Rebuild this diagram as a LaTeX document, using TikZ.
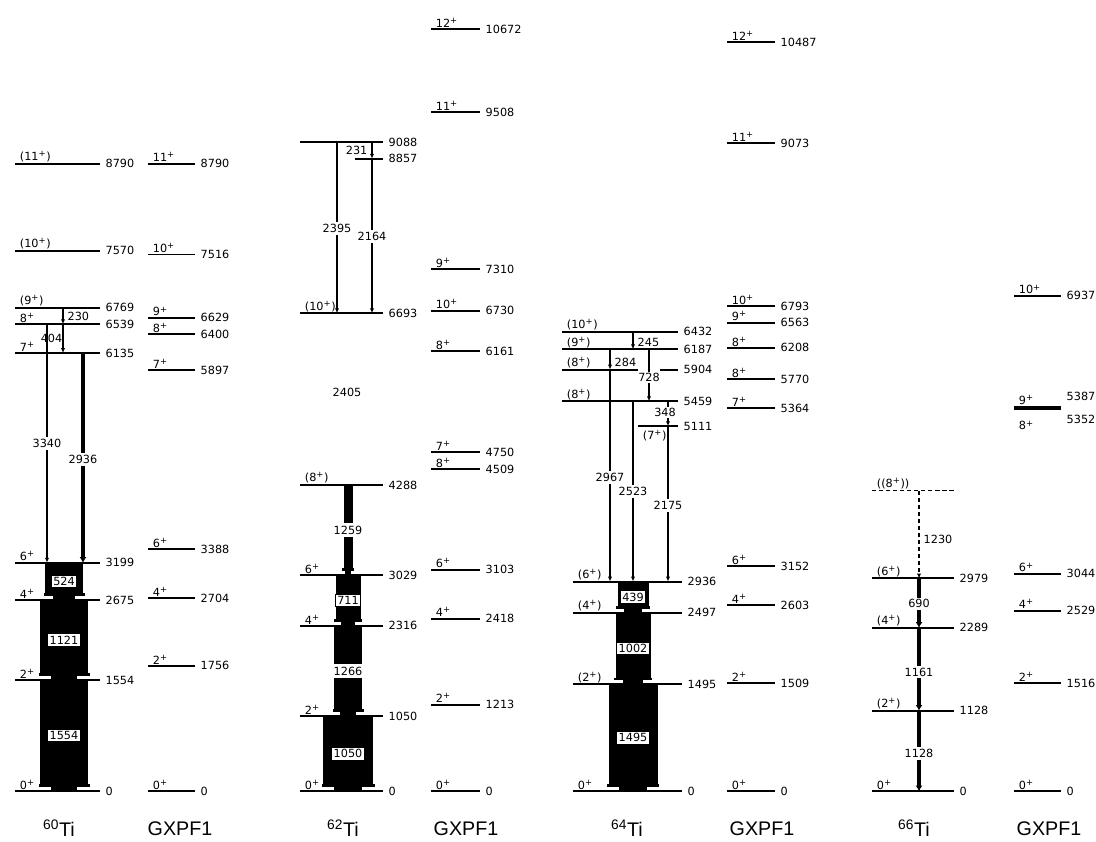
\documentclass[tikz,border=0pt]{standalone}
\usepackage{fontspec}
\setmainfont{Liberation Sans}
\newfontfamily\lblfont{DejaVu Sans}
\usetikzlibrary{arrows.meta}

% level line with spin and energy labels
\newcommand{\lvl}[6]{%
  \coordinate (#1) at (#2,#4);
  \draw[lvl] (#2,#4) -- (#3,#4);
  \node[slab] (#1-s) at (#2,#4) {#5};
  \node[elab] (#1-e) at (#3,#4) {#6};
}
% gamma line between two levels
\newcommand{\gam}[4][]{\draw[trans,#1] (#2,0 |- #3) -- (#2,0 |- #4);}
% intensity bar between two levels
\newcommand{\gbar}[7]{%
  \pgfmathsetmacro{\bxl}{#2-#3/2}\pgfmathsetmacro{\bxr}{#2+#3/2}%
  \pgfmathsetmacro{\fxl}{#2-#3/2-1.5}\pgfmathsetmacro{\fxr}{#2+#3/2+1.5}%
  \pgfmathsetmacro{\txl}{#2-0.28*#3}\pgfmathsetmacro{\txr}{#2+0.28*#3}%
  \fill (\bxl,0 |- #4) rectangle ([yshift=0.17cm]\bxr,0 |- #5);
  \fill ([yshift=0.17cm]\fxl,0 |- #5) rectangle ([yshift=0.1cm]\fxr,0 |- #5);
  \fill ([yshift=0.1cm]\txl,0 |- #5) rectangle (\txr,0 |- #5);
  \path (#2,0 |- #4) -- (#2,0 |- #5) node[midway,#6] (#1) {#7};
}

\begin{document}
\begin{tikzpicture}[x=0.025cm, y=0.0017825cm,
  every node/.style={font=\lblfont\fontsize{8}{9}\selectfont},
  lvl/.style={line width=1.4pt},
  slab/.style={anchor=south west, inner sep=1pt, xshift=0.08cm},
  elab/.style={anchor=west, inner sep=1pt, xshift=0.1cm},
  trans/.style={line width=0.8pt, -{Latex[length=3.5pt,width=3pt]}},
  wide/.style={line width=2.2pt, -{Latex[length=4pt,width=5pt]}},
  glab/.style={fill=white, inner sep=1.5pt},
  blab/.style={glab, draw, line width=0.8pt},
  nuc/.style={font=\fontsize{14}{16}\selectfont},
]
\useasboundingbox (0,-701) rectangle (1096,11080);

% 60Ti experiment
\lvl{t60-0}{15}{100}{0}{0\textsuperscript{+}}{0}
\lvl{t60-2}{15}{100}{1554}{2\textsuperscript{+}}{1554}
\lvl{t60-4}{15}{100}{2675}{4\textsuperscript{+}}{2675}
\lvl{t60-6}{15}{100}{3199}{6\textsuperscript{+}}{3199}
\lvl{t60-7}{15}{100}{6135}{7\textsuperscript{+}}{6135}
\lvl{t60-8}{15}{100}{6539}{8\textsuperscript{+}}{6539}
\lvl{t60-9}{15}{100}{6769}{(9\textsuperscript{+})}{6769}
\lvl{t60-10}{15}{100}{7570}{(10\textsuperscript{+})}{7570}
\lvl{t60-11}{15}{100}{8790}{(11\textsuperscript{+})}{8790}
\gbar{b524}{64}{38}{t60-6}{t60-4}{blab}{524}
\gbar{b1121}{64}{48}{t60-4}{t60-2}{blab}{1121}
\gbar{b1554}{64}{48}{t60-2}{t60-0}{blab}{1554}
\gam{63}{t60-9}{t60-8}
\gam{63}{t60-8}{t60-7}
\gam{47}{t60-8}{t60-6}
\gam[wide]{83}{t60-7}{t60-6}
\node[anchor=west, inner sep=1pt] (l230) at (66,6648) {230};
\node[anchor=east, inner sep=1pt] (l404) at (64,6339) {404};
\node[glab] (l3340) at (47,4867) {3340};
\node[glab] (l2936) at (83,4642) {2936};

% 60Ti GXPF1
\lvl{g60-0}{148}{195}{0}{0\textsuperscript{+}}{0}
\lvl{g60-2}{148}{195}{1756}{2\textsuperscript{+}}{1756}
\lvl{g60-4}{148}{195}{2704}{4\textsuperscript{+}}{2704}
\lvl{g60-6}{148}{195}{3388}{6\textsuperscript{+}}{3388}
\lvl{g60-7}{148}{195}{5897}{7\textsuperscript{+}}{5897}
\lvl{g60-8}{148}{195}{6400}{8\textsuperscript{+}}{6400}
\lvl{g60-9}{148}{195}{6629}{9\textsuperscript{+}}{6629}
\lvl{g60-10}{148}{195}{7516}{10\textsuperscript{+}}{7516}
\lvl{g60-11}{148}{195}{8790}{11\textsuperscript{+}}{8790}

% 62Ti experiment
\lvl{t62-0}{300}{383}{0}{0\textsuperscript{+}}{0}
\lvl{t62-2}{300}{383}{1050}{2\textsuperscript{+}}{1050}
\lvl{t62-4}{300}{383}{2316}{4\textsuperscript{+}}{2316}
\lvl{t62-6}{300}{383}{3029}{6\textsuperscript{+}}{3029}
\lvl{t62-8}{300}{383}{4288}{(8\textsuperscript{+})}{4288}
\lvl{t62-10}{300}{383}{6693}{(10\textsuperscript{+})}{6693}
\lvl{t62-b}{355}{383}{8857}{}{8857}
\lvl{t62-c}{300}{383}{9088}{}{9088}
\gbar{b1259}{348}{9}{t62-8}{t62-6}{glab, minimum height=0.37cm}{1259}
\gbar{b711}{348}{25}{t62-6}{t62-4}{blab}{711}
\gbar{b1266}{348}{28}{t62-4}{t62-2}{glab, minimum height=0.37cm, minimum width=0.75cm}{1266}
\gbar{b1050}{348}{50}{t62-2}{t62-0}{blab}{1050}
\gam{372}{t62-c}{t62-b}
\gam{337}{t62-c}{t62-10}
\gam{372}{t62-b}{t62-10}
\node[anchor=east, inner sep=1pt] (l231) at (369,8976) {231};
\node[glab] (l2395) at (337,7882) {2395};
\node[glab] (l2164) at (372,7770) {2164};
\node[inner sep=1pt] (l2405) at (347,5582) {2405};

% 62Ti GXPF1
\lvl{g62-0}{431}{480}{0}{0\textsuperscript{+}}{0}
\lvl{g62-2}{431}{480}{1213}{2\textsuperscript{+}}{1213}
\lvl{g62-4}{431}{480}{2418}{4\textsuperscript{+}}{2418}
\lvl{g62-6}{431}{480}{3103}{6\textsuperscript{+}}{3103}
\lvl{g62-8}{431}{480}{4509}{8\textsuperscript{+}}{4509}
\lvl{g62-7}{431}{480}{4750}{7\textsuperscript{+}}{4750}
\lvl{g62-8b}{431}{480}{6161}{8\textsuperscript{+}}{6161}
\lvl{g62-10}{431}{480}{6730}{10\textsuperscript{+}}{6730}
\lvl{g62-9}{431}{480}{7310}{9\textsuperscript{+}}{7310}
\lvl{g62-11}{431}{480}{9508}{11\textsuperscript{+}}{9508}
\lvl{g62-12}{431}{480}{10672}{12\textsuperscript{+}}{10672}

% 64Ti experiment
\lvl{t64-0}{573}{682}{0}{0\textsuperscript{+}}{0}
\lvl{t64-2}{573}{682}{1495}{(2\textsuperscript{+})}{1495}
\lvl{t64-4}{573}{682}{2497}{(4\textsuperscript{+})}{2497}
\lvl{t64-6}{573}{682}{2936}{(6\textsuperscript{+})}{2936}
\coordinate (t64-7) at (638,5111);
\draw[lvl] (638,5111) -- (678,5111);
\node[slab, anchor=north west, yshift=-0.05cm] (t64-7-s) at (638,5111) {(7\textsuperscript{+})};
\node[elab] (t64-7-e) at (678,5111) {5111};
\lvl{t64-8a}{562}{678}{5459}{(8\textsuperscript{+})}{5459}
\coordinate (t64-8b) at (562,5904);
\draw[lvl] (562,5904) -- (638,5904) (660,5904) -- (678,5904);
\node[slab] (t64-8b-s) at (562,5904) {(8\textsuperscript{+})};
\node[elab] (t64-8b-e) at (678,5904) {5904};
\lvl{t64-9}{562}{678}{6187}{(9\textsuperscript{+})}{6187}
\lvl{t64-10}{562}{678}{6432}{(10\textsuperscript{+})}{6432}
\gbar{b439}{633}{31}{t64-6}{t64-4}{blab}{439}
\gbar{b1002}{633}{35}{t64-4}{t64-2}{blab}{1002}
\gbar{b1495}{633}{49}{t64-2}{t64-0}{blab}{1495}
\gam{610}{t64-9}{t64-8b}
\gam{610}{t64-8b}{t64-6}
\gam{633}{t64-10}{t64-9}
\gam{633}{t64-8a}{t64-6}
\gam{649}{t64-9}{t64-8a}
\gam{668}{t64-8a}{t64-7}
\gam{668}{t64-7}{t64-6}
\node[anchor=west, inner sep=1pt] (l245) at (636,6283) {245};
\node[anchor=west, inner sep=1pt] (l284) at (613,6003) {284};
\node[glab, inner sep=1pt] (l728) at (649,5792) {728};
\node[glab, inner sep=1pt] (l348) at (665,5302) {348};
\node[glab] (l2967) at (610,4390) {2967};
\node[glab] (l2523) at (633,4194) {2523};
\node[glab] (l2175) at (668,3997) {2175};

% 64Ti GXPF1
\lvl{g64-0}{727}{775}{0}{0\textsuperscript{+}}{0}
\lvl{g64-2}{727}{775}{1509}{2\textsuperscript{+}}{1509}
\lvl{g64-4}{727}{775}{2603}{4\textsuperscript{+}}{2603}
\lvl{g64-6}{727}{775}{3152}{6\textsuperscript{+}}{3152}
\lvl{g64-7}{727}{775}{5364}{7\textsuperscript{+}}{5364}
\lvl{g64-8}{727}{775}{5770}{8\textsuperscript{+}}{5770}
\lvl{g64-8b}{727}{775}{6208}{8\textsuperscript{+}}{6208}
\lvl{g64-9}{727}{775}{6563}{9\textsuperscript{+}}{6563}
\lvl{g64-10}{727}{775}{6793}{10\textsuperscript{+}}{6793}
\lvl{g64-11}{727}{775}{9073}{11\textsuperscript{+}}{9073}
\lvl{g64-12}{727}{775}{10487}{12\textsuperscript{+}}{10487}

% 66Ti experiment
\lvl{t66-0}{872}{954}{0}{0\textsuperscript{+}}{0}
\lvl{t66-2}{872}{954}{1128}{(2\textsuperscript{+})}{1128}
\lvl{t66-4}{872}{954}{2289}{(4\textsuperscript{+})}{2289}
\lvl{t66-6}{872}{954}{2979}{(6\textsuperscript{+})}{2979}
\coordinate (t66-8) at (872,4209);
\draw[lvl, line width=0.9pt, dash pattern=on 3pt off 2pt] (872,4209) -- (954,4209);
\node[slab] (t66-8-s) at (872,4209) {((8\textsuperscript{+}))};
\gam[line width=1pt, dash pattern=on 3pt off 2pt]{919}{t66-8}{t66-6}
\gam[wide]{919}{t66-6}{t66-4}
\gam[wide]{919}{t66-4}{t66-2}
\gam[wide]{919}{t66-2}{t66-0}
\node[anchor=west, inner sep=1pt] (l1230) at (922,3520) {1230};
\node[glab] (l690) at (919,2623) {690};
\node[glab] (l1161) at (919,1669) {1161};
\node[glab] (l1128) at (919,533) {1128};

% 66Ti GXPF1
\lvl{g66-0}{1014}{1061}{0}{0\textsuperscript{+}}{0}
\lvl{g66-2}{1014}{1061}{1516}{2\textsuperscript{+}}{1516}
\lvl{g66-4}{1014}{1061}{2529}{4\textsuperscript{+}}{2529}
\lvl{g66-6}{1014}{1061}{3044}{6\textsuperscript{+}}{3044}
\coordinate (g66-8) at (1014,5352);
\draw[lvl] (1014,5352) -- (1061,5352);
\node[slab, anchor=north west, yshift=-0.25cm] (g66-8-s) at (1014,5352) {8\textsuperscript{+}};
\node[elab, yshift=-0.27cm] (g66-8-e) at (1061,5352) {5352};
\coordinate (g66-9) at (1014,5387);
\draw[lvl] (1014,5387) -- (1061,5387);
\node[slab] (g66-9-s) at (1014,5387) {9\textsuperscript{+}};
\node[elab, yshift=0.25cm] (g66-9-e) at (1061,5387) {5387};
\lvl{g66-10}{1014}{1061}{6937}{10\textsuperscript{+}}{6937}

% nuclide labels
\node[nuc] (n60) at (59,-519) {\textsuperscript{60}Ti};
\node[nuc] (x60) at (180,-519) {GXPF1};
\node[nuc] (n62) at (343,-519) {\textsuperscript{62}Ti};
\node[nuc] (x62) at (466,-519) {GXPF1};
\node[nuc] (n64) at (627,-519) {\textsuperscript{64}Ti};
\node[nuc] (x64) at (762,-519) {GXPF1};
\node[nuc] (n66) at (914,-519) {\textsuperscript{66}Ti};
\node[nuc] (x66) at (1049,-519) {GXPF1};
\end{tikzpicture}
\end{document}
